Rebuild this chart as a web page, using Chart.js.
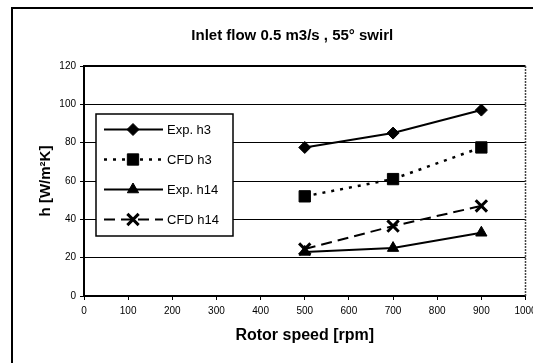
<!DOCTYPE html>
<html>
<head>
<meta charset="utf-8">
<script src="https://cdn.jsdelivr.net/npm/chart.js@4/dist/chart.umd.min.js"></script>
<style>
  html, body { margin: 0; padding: 0; background: #fff; }
  #wrap { width: 533px; height: 363px; }
</style>
</head>
<body>
<div id="wrap"><canvas id="heatChart" width="533" height="363"></canvas></div>
<script>
const rotorSpeeds = [500, 700, 900];
const expH3 = [77.5, 85, 97];
const cfdH3 = [52, 61, 77.5];
const expH14 = [23, 25, 33];
const cfdH14 = [24.5, 36.5, 47];
const seriesLabels = ['Exp. h3', 'CFD h3', 'Exp. h14', 'CFD h14'];
const xTicks = [0, 100, 200, 300, 400, 500, 600, 700, 800, 900, 1000];
const yTicks = [0, 20, 40, 60, 80, 100, 120];

const FONT = '"Liberation Sans", Arial, sans-serif';
const NO_PAD = { top: 0, left: 0, right: 0, bottom: 0 };

function toPoints(values) {
    return rotorSpeeds.map((x, i) => ({ x: x, y: values[i] }));
}

// white page + outer frame + plot border
const framePlugin = {
    id: 'frame',
    afterLayout(chart) {
        // title sits a bit right of the canvas centre in the original
        chart.titleBlock.left = 59;
    },
    beforeDraw(chart) {
        const ctx = chart.ctx;
        ctx.save();
        ctx.fillStyle = '#fff';
        ctx.fillRect(0, 0, chart.width, chart.height);
        ctx.strokeStyle = '#000';
        ctx.lineWidth = 2;
        ctx.strokeRect(12, 8, chart.width + 10, chart.height + 10);
        ctx.restore();
    },
    afterDatasetsDraw(chart) {
        const a = chart.chartArea;
        const ctx = chart.ctx;
        ctx.save();
        ctx.strokeStyle = '#000';
        ctx.lineWidth = 2;
        ctx.beginPath();
        ctx.moveTo(a.left, a.top);
        ctx.lineTo(a.right, a.top);
        ctx.stroke();
        ctx.strokeStyle = '#444';
        ctx.lineWidth = 1.5;
        ctx.setLineDash([2, 1]);
        ctx.beginPath();
        ctx.moveTo(a.right, a.top);
        ctx.lineTo(a.right, a.bottom);
        ctx.stroke();
        ctx.restore();
    }
};

// legend box drawn inside the plot, like the original
const boxLegend = {
    id: 'boxLegend',
    afterDraw(chart) {
        const ctx = chart.ctx;
        const a = chart.chartArea;
        const left = a.left + 12, top = a.top + 48, w = 137, h = 122;
        ctx.save();
        ctx.fillStyle = '#fff';
        ctx.fillRect(left, top, w, h);
        ctx.strokeStyle = '#000';
        ctx.lineWidth = 1.5;
        ctx.strokeRect(left, top, w, h);
        chart.data.datasets.forEach((ds, i) => {
            const y = top + 15.5 + i * 30;
            ctx.save();
            ctx.strokeStyle = '#000';
            ctx.lineWidth = ds.borderWidth;
            ctx.setLineDash(ds.borderDash || []);
            ctx.beginPath();
            ctx.moveTo(left + 8, y);
            ctx.lineTo(left + 67, y);
            ctx.stroke();
            ctx.restore();
            ctx.save();
            ctx.fillStyle = '#000';
            ctx.strokeStyle = '#000';
            ctx.lineWidth = ds.pointBorderWidth;
            Chart.helpers.drawPoint(ctx, {
                pointStyle: ds.pointStyle,
                radius: ds.pointRadius,
                rotation: 0,
                borderWidth: ds.pointBorderWidth
            }, left + 37, y);
            ctx.restore();
            ctx.fillStyle = '#000';
            ctx.font = '13px ' + FONT;
            ctx.textBaseline = 'middle';
            ctx.fillText(ds.label, left + 71, y + 1);
        });
        ctx.restore();
    }
};

const ctx = document.getElementById('heatChart').getContext('2d');
const heatChart = new Chart(ctx, {
    type: 'line',
    data: {
        datasets: [
            {
                label: seriesLabels[0],
                data: toPoints(expH3),
                borderColor: '#000',
                backgroundColor: '#000',
                borderWidth: 2,
                pointStyle: 'rectRot',
                pointRadius: 6,
                pointBorderWidth: 1
            },
            {
                label: seriesLabels[1],
                data: toPoints(cfdH3),
                borderColor: '#000',
                backgroundColor: '#000',
                borderWidth: 2.5,
                borderDash: [3, 6],
                pointStyle: 'rect',
                pointRadius: 8,
                pointBorderWidth: 1
            },
            {
                label: seriesLabels[2],
                data: toPoints(expH14),
                borderColor: '#000',
                backgroundColor: '#000',
                borderWidth: 2,
                pointStyle: 'triangle',
                pointRadius: 6.5,
                pointBorderWidth: 1
            },
            {
                label: seriesLabels[3],
                data: toPoints(cfdH14),
                borderColor: '#000',
                backgroundColor: '#000',
                borderWidth: 2,
                borderDash: [11, 6],
                pointStyle: 'crossRot',
                pointRadius: 8,
                pointBorderWidth: 3
            }
        ]
    },
    options: {
        responsive: false,
        animation: false,
        layout: { autoPadding: false, padding: { top: 0, left: 0, right: 7.5, bottom: 0 } },
        plugins: {
            legend: { display: false },
            tooltip: { enabled: false },
            title: {
                display: true,
                text: 'Inlet flow 0.5 m3/s , 55° swirl',
                color: '#000',
                font: { family: FONT, size: 15, weight: 'bold', lineHeight: 1.2 },
                padding: { top: 27, bottom: 21 }
            }
        },
        scales: {
            x: {
                type: 'linear',
                min: 0,
                max: 1000,
                afterBuildTicks(scale) {
                    scale.ticks = xTicks.map(v => ({ value: v }));
                },
                afterFit(scale) {
                    scale.height = 67;
                    // let the last label run off the page, as in the original
                    scale.paddingLeft = 0;
                    scale.paddingRight = 0;
                    scale.getPadding = () => NO_PAD;
                },
                border: { display: true, color: '#000', width: 2 },
                grid: { drawOnChartArea: false, drawTicks: true, tickLength: 4, color: '#000' },
                ticks: {
                    color: '#000',
                    padding: 5,
                    maxRotation: 0,
                    callback: v => String(v),
                    font: { family: FONT, size: 10 }
                },
                title: {
                    display: true,
                    text: 'Rotor speed [rpm]',
                    color: '#000',
                    font: { family: FONT, size: 16, weight: 'bold', lineHeight: 1.2 },
                    padding: { top: 0, bottom: 18 }
                }
            },
            y: {
                min: 0,
                max: 120,
                afterBuildTicks(scale) {
                    scale.ticks = yTicks.map(v => ({ value: v }));
                },
                afterFit(scale) { scale.width = 84; },
                border: { display: true, color: '#000', width: 2 },
                grid: { drawOnChartArea: true, drawTicks: true, tickLength: 4, color: '#000', lineWidth: 1 },
                ticks: {
                    color: '#000',
                    padding: 4,
                    font: { family: FONT, size: 10 }
                },
                title: {
                    display: true,
                    text: 'h [W/m²K]',
                    color: '#000',
                    font: { family: FONT, size: 15, weight: 'bold', lineHeight: 1.2 },
                    padding: { top: 37, bottom: 0 }
                }
            }
        }
    },
    plugins: [framePlugin, boxLegend]
});
</script>
</body>
</html>
